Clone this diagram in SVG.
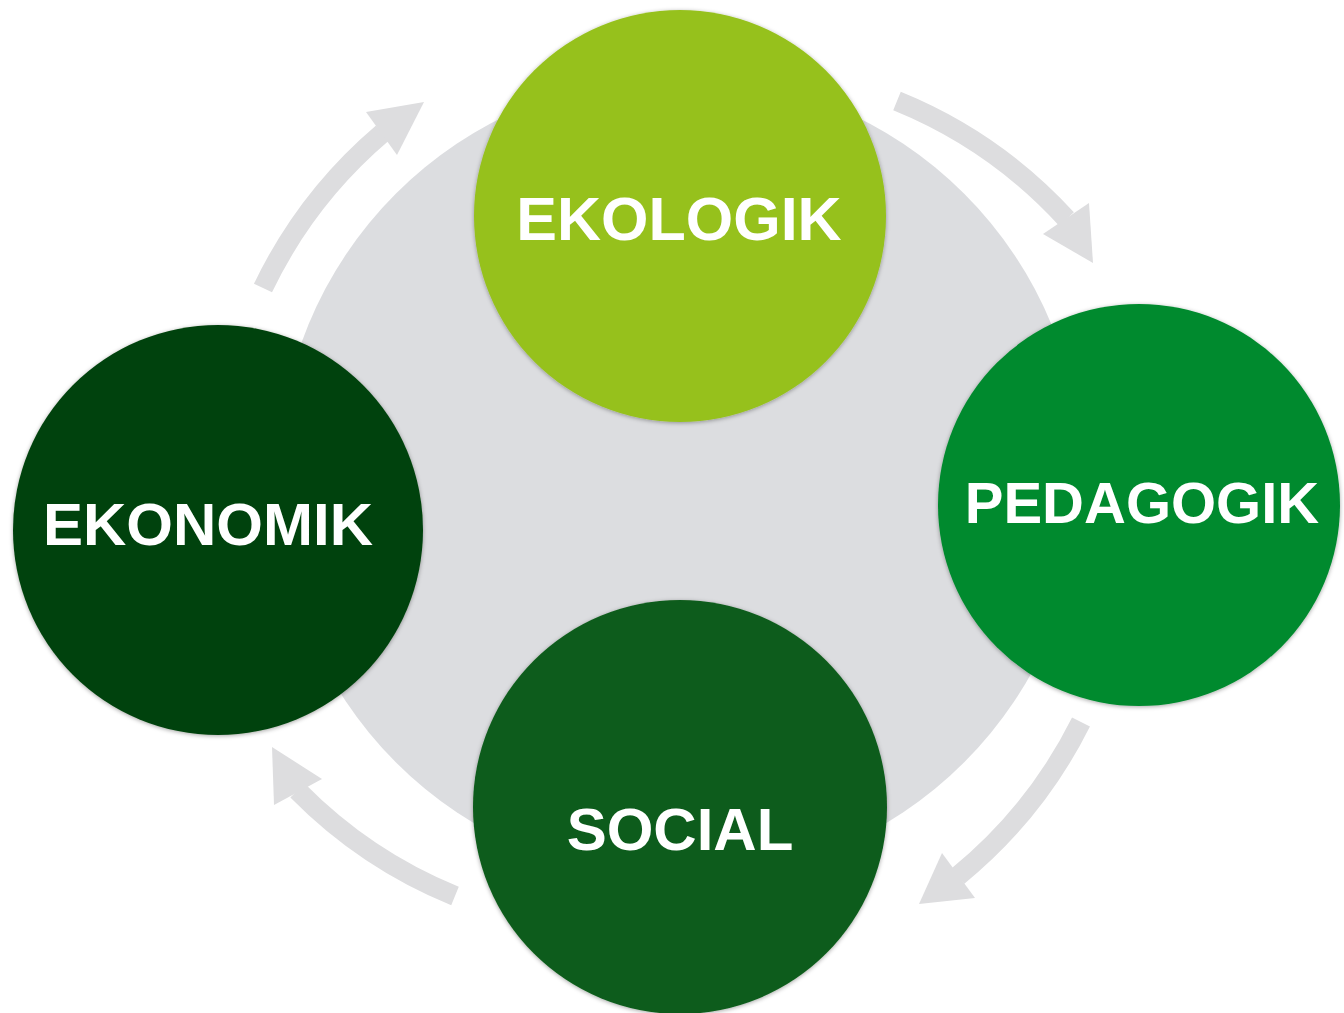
<svg xmlns="http://www.w3.org/2000/svg" width="1344" height="1013" viewBox="0 0 1344 1013">
  <style>
    .node circle { filter: url(#shadow); }
    .label { font-family: "Liberation Sans", Arial, Helvetica, sans-serif; font-weight: bold; fill: #ffffff; text-anchor: middle; }
    .shaft { fill: none; stroke: #dddddf; stroke-width: 20; }
    .head { fill: #dddddf; }
  </style>
  <defs>
    <filter id="shadow" x="-10%" y="-10%" width="120%" height="120%">
      <feDropShadow dx="0" dy="1" stdDeviation="2" flood-color="#000000" flood-opacity="0.35"/>
    </filter>
  </defs>
  <rect width="1344" height="1013" fill="#ffffff"/>
  <circle id="backdrop" cx="680" cy="478" r="402" fill="#dcdde0"/>
  <g id="connectors">
    <path class="shaft" d="M263,288 A470,470 0 0 1 382.5,133"/>
    <polygon class="head" points="424,102 366,112 397,155"/>
    <path class="shaft" d="M897,101 A470,470 0 0 1 1066.5,219"/>
    <polygon class="head" points="1093,263 1043,234 1089,203"/>
    <path class="shaft" d="M1081,722 A470,470 0 0 1 958,876"/>
    <polygon class="head" points="919,904 942,853 975,898"/>
    <path class="shaft" d="M455,896 A470,470 0 0 1 297.5,790.5"/>
    <polygon class="head" points="272,747 274,805 322,779"/>
  </g>
  <g id="ekologik" class="node">
    <circle cx="680" cy="216" r="206" fill="#96c11f"/>
    <text class="label" x="679" y="240" font-size="61">EKOLOGIK</text>
  </g>
  <g id="pedagogik" class="node">
    <circle cx="1139" cy="505" r="201" fill="#008a2f"/>
    <text class="label" x="1142" y="523" font-size="58">PEDAGOGIK</text>
  </g>
  <g id="ekonomik" class="node">
    <circle cx="218" cy="530" r="205" fill="#06420c"/>
    <text class="label" x="208" y="545" font-size="60">EKONOMIK</text>
  </g>
  <g id="social" class="node">
    <circle cx="680" cy="807" r="207" fill="#0e5c1b"/>
    <text class="label" x="680" y="850" font-size="60">SOCIAL</text>
  </g>
</svg>
